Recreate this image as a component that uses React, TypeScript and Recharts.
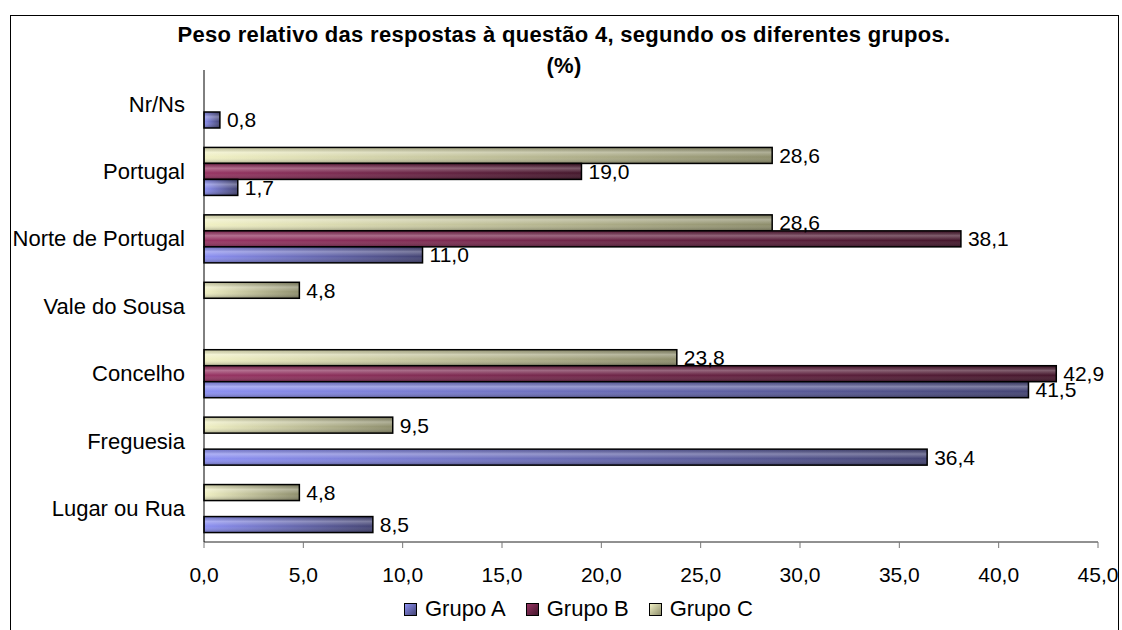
import React from "react";
import { BarChart, Bar, XAxis, YAxis, LabelList } from "recharts";

const categories = ["Nr/Ns", "Portugal", "Norte de Portugal", "Vale do Sousa", "Concelho", "Freguesia", "Lugar ou Rua"];
const grupoA = [0.8, 1.7, 11.0, null, 41.5, 36.4, 8.5];
const grupoB = [null, 19.0, 38.1, null, 42.9, null, null];
const grupoC = [null, 28.6, 28.6, 4.8, 23.8, 9.5, 4.8];
const xTicks = [0, 5, 10, 15, 20, 25, 30, 35, 40, 45];
const edgeTicks = [0, 1, 2, 3, 4, 5, 6, 7];

const series = [
  { key: "A", name: "Grupo A", light: "#8c90f2", dark: "#444474" },
  { key: "B", name: "Grupo B", light: "#973463", dark: "#45172c" },
  { key: "C", name: "Grupo C", light: "#f0f0c4", dark: "#8e8e6c" },
];

const data = categories.map((cat, i) => ({ cat, A: grupoA[i], B: grupoB[i], C: grupoC[i] }));

const fmt = (v: any) => (v == null ? "" : Number(v).toFixed(1).replace(".", ","));
const font = "'Liberation Sans', Arial, sans-serif";

const GradBar = (props: any) => {
  const { x, y, width, height, fill } = props;
  if (!width || width <= 0) return null;
  return (
    <g>
      <rect x={x} y={y} width={width} height={height} fill={fill} />
      <rect x={x} y={y} width={width} height={height} fill="url(#shade)" />
      <rect x={x} y={y} width={width} height={height} fill="none" stroke="#000" strokeWidth={1.5} />
    </g>
  );
};

// legend drawn as html, items taken from the series list
const LegendBox = () => (
  <div
    style={{
      position: "absolute",
      left: 404,
      top: 597,
      display: "flex",
      alignItems: "center",
      fontFamily: font,
      fontSize: 22,
      lineHeight: "24px",
      color: "#000",
    }}
  >
    {series.map((s) => (
      <div key={s.key} style={{ display: "flex", alignItems: "center", marginRight: 20 }}>
        <span
          style={{
            display: "inline-block",
            width: 11,
            height: 11,
            border: "1px solid #000",
            background: `linear-gradient(135deg, ${s.light}, ${s.dark})`,
            marginRight: 8,
          }}
        />
        {s.name}
      </div>
    ))}
  </div>
);

export default function App() {
  return (
    <div style={{ position: "absolute", left: 0, top: 0, width: 1122, height: 630, overflow: "hidden", background: "#fff" }}>
      <div style={{ position: "absolute", left: 10, top: 15, width: 1107, height: 640, border: "1px solid #000" }} />
      <div
        style={{
          position: "absolute",
          left: 10,
          width: 1108,
          top: 19,
          textAlign: "center",
          fontFamily: font,
          fontWeight: "bold",
          fontSize: 22,
          letterSpacing: 0.3,
          lineHeight: "31px",
        }}
      >
        Peso relativo das respostas à questão 4, segundo os diferentes grupos.
        <br />
        (%)
      </div>
      <div style={{ position: "absolute", left: 0, top: 0 }}>
        <BarChart
          width={1122}
          height={630}
          data={data}
          layout="vertical"
          margin={{ top: 70, right: 24, bottom: 58, left: 10 }}
          barSize={16}
          barGap={0}
        >
          <defs>
            {series.map((s) => (
              <linearGradient key={s.key} id={`g${s.key}`} x1="0" y1="0" x2="1" y2="0">
                <stop offset="0%" stopColor={s.light} />
                <stop offset="100%" stopColor={s.dark} />
              </linearGradient>
            ))}
            <linearGradient id="shade" x1="0" y1="0" x2="0" y2="1">
              <stop offset="0%" stopColor="#000" stopOpacity={0.15} />
              <stop offset="30%" stopColor="#fff" stopOpacity={0.3} />
              <stop offset="60%" stopColor="#fff" stopOpacity={0} />
              <stop offset="100%" stopColor="#000" stopOpacity={0.3} />
            </linearGradient>
          </defs>
          <XAxis
            type="number"
            domain={[0, 45]}
            ticks={xTicks}
            tickFormatter={fmt}
            interval={0}
            tickSize={6}
            tickMargin={19}
            axisLine={{ stroke: "#222" }}
            tickLine={{ stroke: "#777" }}
            tick={{ fill: "#000", fontSize: 21, fontFamily: font }}
            height={30}
          />
          <YAxis
            yAxisId="edges"
            type="number"
            domain={[0, 7]}
            ticks={edgeTicks}
            interval={0}
            tickFormatter={() => ""}
            tickSize={6}
            axisLine={false}
            tickLine={{ stroke: "#333" }}
            width={0}
          />
          <YAxis
            yAxisId="cat"
            type="category"
            dataKey="cat"
            width={194}
            interval={0}
            tickSize={0}
            tickMargin={19}
            tickLine={false}
            axisLine={{ stroke: "#000" }}
            tick={{ fill: "#000", fontSize: 22, fontFamily: font }}
          />
          {[...series].reverse().map((s) => (
            <Bar
              key={s.key}
              yAxisId="cat"
              dataKey={s.key}
              name={s.name}
              fill={`url(#g${s.key})`}
              shape={GradBar}
              isAnimationActive={false}
            >
              <LabelList
                dataKey={s.key}
                position="right"
                offset={7}
                formatter={fmt}
                style={{ fill: "#000", fontSize: 21, fontFamily: font }}
              />
            </Bar>
          ))}
        </BarChart>
      </div>
      <LegendBox />
    </div>
  );
}
